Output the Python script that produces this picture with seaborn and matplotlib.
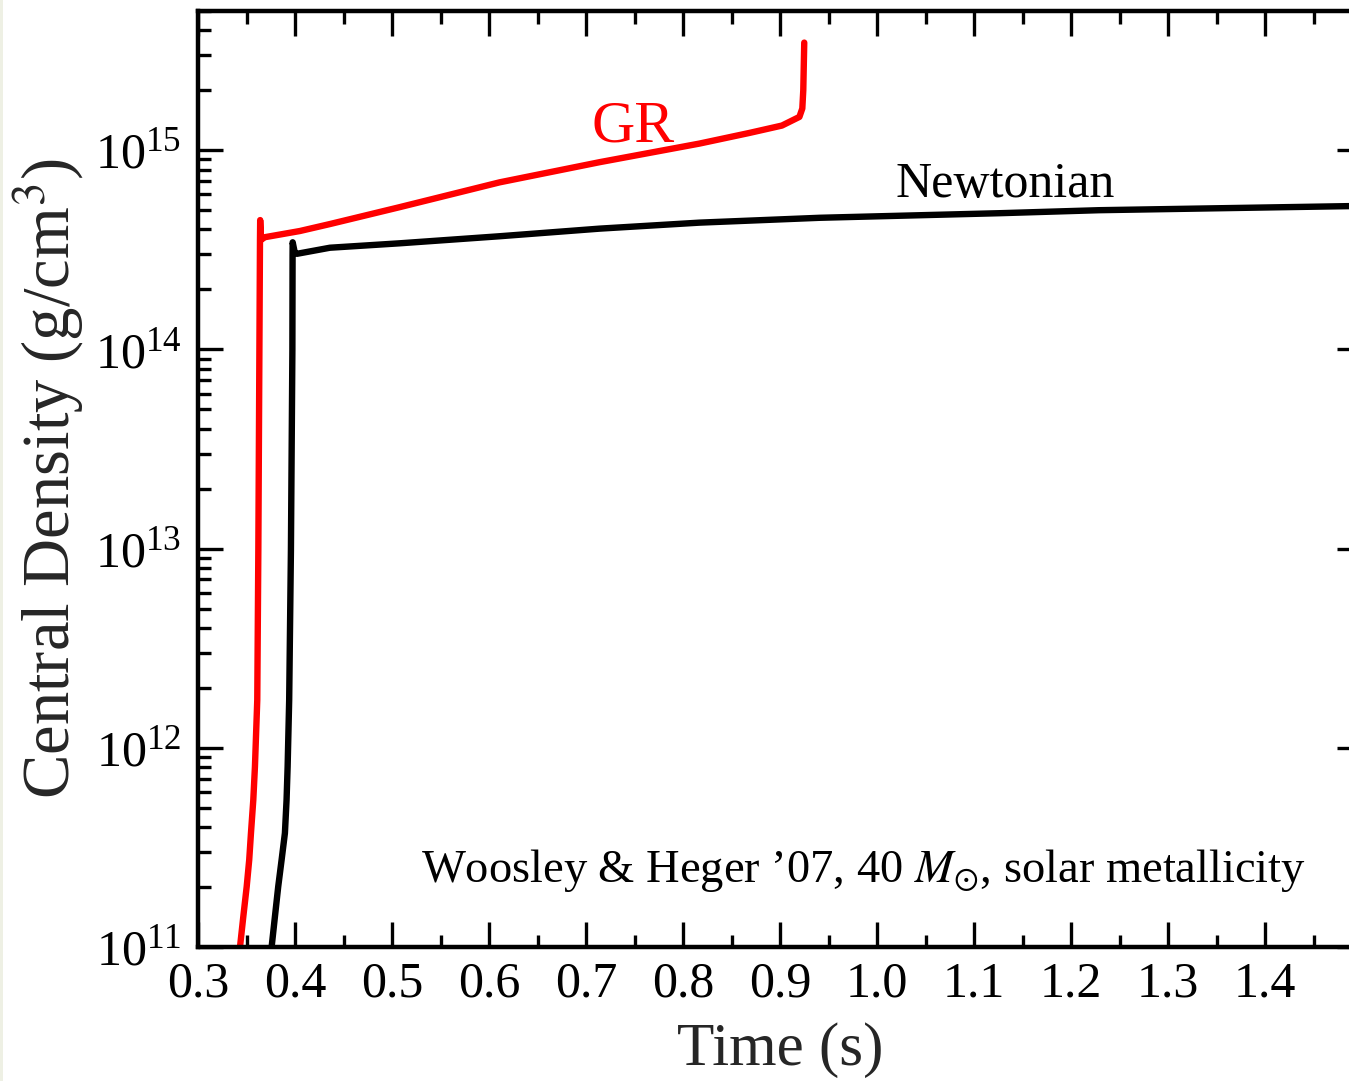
import numpy as np
import pandas as pd
import matplotlib
matplotlib.use("Agg")
import matplotlib.pyplot as plt
from matplotlib.ticker import MultipleLocator, LogLocator, FormatStrFormatter, NullFormatter
from matplotlib.patches import Rectangle
import seaborn as sns

# Central density evolution through core bounce (40 Msun progenitor)
gr_time = [0.3415, 0.3433, 0.3467, 0.3502, 0.3528, 0.3546, 0.3570, 0.3587, 0.3611,
           0.3622, 0.3633, 0.3639, 0.3641, 0.3650, 0.369, 0.405, 0.436, 0.508, 0.611,
           0.714, 0.817, 0.868, 0.902, 0.920, 0.923, 0.924, 0.925]
gr_density = [9.0e10, 1.0e11, 1.42e11, 2.01e11, 2.74e11, 3.73e11, 5.47e11, 8.04e11, 1.74e12,
              9.8e12, 1.0e14, 3.55e14, 4.46e14, 3.55e14, 3.66e14, 3.93e14, 4.26e14,
              5.18e14, 6.90e14, 8.71e14, 1.08e15, 1.22e15, 1.33e15, 1.47e15, 1.62e15,
              2.0e15, 3.47e15]

newt_time = [0.375, 0.3759, 0.3793, 0.3827, 0.3862, 0.3896, 0.3913, 0.3924, 0.3940,
             0.3958, 0.3973, 0.3975, 0.3976, 0.3999, 0.402, 0.436, 0.508, 0.611, 0.714,
             0.817, 0.941, 1.127, 1.229, 1.486, 1.50]
newt_density = [8.5e10, 1.0e11, 1.42e11, 2.01e11, 2.74e11, 3.73e11, 5.47e11, 8.04e11,
                1.74e12, 9.84e12, 9.9e13, 2.97e14, 3.45e14, 3.04e14, 3.02e14, 3.24e14,
                3.41e14, 3.70e14, 4.04e14, 4.33e14, 4.58e14, 4.83e14, 5.00e14, 5.24e14,
                5.25e14]

x_ticks = [0.3, 0.4, 0.5, 0.6, 0.7, 0.8, 0.9, 1.0, 1.1, 1.2, 1.3, 1.4]

df = pd.concat([
    pd.DataFrame({"time": gr_time, "density": gr_density, "model": "GR"}),
    pd.DataFrame({"time": newt_time, "density": newt_density, "model": "Newtonian"}),
], ignore_index=True)

sns.set_theme(style="ticks")
plt.rcParams["font.family"] = ["Liberation Serif", "DejaVu Serif"]
plt.rcParams["mathtext.fontset"] = "stix"

fig = plt.figure(figsize=(13.49, 10.81), dpi=100)
fig.patch.set_facecolor("white")
fig.patches.append(Rectangle((0, 0), 3 / 1349, 1, transform=fig.transFigure,
                             facecolor="#eef0e4", edgecolor="none", zorder=0))
ax = fig.add_axes([198 / 1349, 134 / 1081, (1362 - 198) / 1349, (947 - 11) / 1081])

sns.lineplot(data=df, x="time", y="density", hue="model",
             palette={"GR": "#ff0000", "Newtonian": "black"},
             sort=False, estimator=None, linewidth=4.6, legend=False, ax=ax,
             solid_capstyle="round", solid_joinstyle="round")

ax.set_yscale("log")
ax.set_xlim(0.3, 1.5)
ax.set_ylim(1e11, 5e15)

ax.set_xticks(x_ticks)
ax.xaxis.set_major_formatter(FormatStrFormatter("%.1f"))
ax.xaxis.set_minor_locator(MultipleLocator(0.05))
ax.yaxis.set_major_locator(LogLocator(base=10, numticks=10))
ax.yaxis.set_minor_locator(LogLocator(base=10, subs=np.arange(2, 10), numticks=20))
ax.yaxis.set_minor_formatter(NullFormatter())

ax.tick_params(which="both", direction="in", top=True, right=True, width=2.4,
               colors="black")
ax.tick_params(which="major", length=18, labelsize=36)
ax.tick_params(which="minor", length=9)
ax.tick_params(axis="x", which="major", pad=10)
ax.tick_params(axis="y", which="major", pad=12)
for sp in ax.spines.values():
    sp.set_linewidth(3.2)
    sp.set_color("black")

ax.set_xlabel("Time (s)", fontsize=44, labelpad=11)
ax.set_ylabel("Central Density (g/cm$^3$)", fontsize=48, labelpad=6)

ax.text(0.749, 1.1e15, "GR", color="#ff0000", fontsize=43, ha="center", va="baseline")
ax.text(1.132, 5.8e14, "Newtonian", color="black", fontsize=36, ha="center", va="baseline")
ax.text(0.986, 2.12e11, "Woosley & Heger \u201907, 40 $M_{\\odot}$, solar metallicity",
        color="black", fontsize=33.5, ha="center", va="baseline")

fig.savefig("out.png", dpi=100)
